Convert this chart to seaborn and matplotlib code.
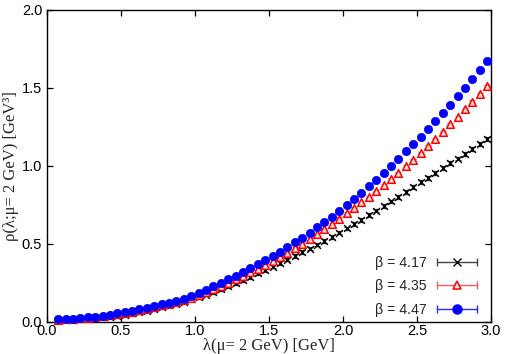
import numpy as np
import pandas as pd
import matplotlib
matplotlib.use("Agg")
import matplotlib.pyplot as plt
import seaborn as sns
from matplotlib.lines import Line2D
from matplotlib.legend_handler import HandlerLine2D, HandlerTuple

# ---- data ----
lam = [0.075, 0.125, 0.175, 0.225, 0.275, 0.325, 0.375, 0.425, 0.475, 0.525,
       0.575, 0.625, 0.675, 0.725, 0.775, 0.825, 0.875, 0.925, 0.975, 1.025,
       1.075, 1.125, 1.175, 1.225, 1.275, 1.325, 1.375, 1.425, 1.475, 1.525,
       1.575, 1.625, 1.675, 1.725, 1.775, 1.825, 1.875, 1.925, 1.975, 2.025,
       2.075, 2.125, 2.175, 2.225, 2.275, 2.325, 2.375, 2.425, 2.475, 2.525,
       2.575, 2.625, 2.675, 2.725, 2.775, 2.825, 2.875, 2.925, 2.975]

rho_417 = [0.011, 0.013, 0.015, 0.018, 0.021, 0.025, 0.030, 0.035, 0.041, 0.048,
           0.056, 0.064, 0.073, 0.083, 0.094, 0.106, 0.118, 0.131, 0.145, 0.160,
           0.176, 0.193, 0.211, 0.230, 0.249, 0.269, 0.290, 0.311, 0.333, 0.355,
           0.377, 0.400, 0.423, 0.447, 0.471, 0.496, 0.521, 0.547, 0.573, 0.600,
           0.628, 0.656, 0.685, 0.714, 0.743, 0.773, 0.803, 0.833, 0.864, 0.895,
           0.925, 0.955, 0.986, 1.017, 1.048, 1.079, 1.110, 1.141, 1.173]

rho_435 = [0.015, 0.017, 0.019, 0.023, 0.027, 0.031, 0.037, 0.043, 0.050, 0.058,
           0.066, 0.075, 0.085, 0.095, 0.106, 0.117, 0.129, 0.142, 0.156, 0.172,
           0.190, 0.210, 0.231, 0.252, 0.273, 0.295, 0.318, 0.340, 0.363, 0.389,
           0.416, 0.444, 0.472, 0.502, 0.533, 0.564, 0.596, 0.629, 0.663, 0.698,
           0.732, 0.767, 0.803, 0.839, 0.877, 0.917, 0.957, 0.999, 1.041, 1.084,
           1.128, 1.174, 1.220, 1.267, 1.315, 1.363, 1.413, 1.464, 1.515]

rho_447 = [0.017, 0.019, 0.021, 0.026, 0.030, 0.034, 0.041, 0.047, 0.056, 0.064,
           0.073, 0.081, 0.092, 0.103, 0.113, 0.124, 0.137, 0.150, 0.165, 0.185,
           0.207, 0.230, 0.253, 0.275, 0.297, 0.320, 0.344, 0.369, 0.395, 0.422,
           0.450, 0.479, 0.510, 0.541, 0.573, 0.606, 0.640, 0.676, 0.713, 0.750,
           0.789, 0.829, 0.869, 0.910, 0.953, 0.998, 1.045, 1.093, 1.141, 1.189,
           1.238, 1.288, 1.340, 1.393, 1.447, 1.503, 1.560, 1.617, 1.675]

labels = ["β = 4.17", "β = 4.35", "β = 4.47"]
xticks = [0.0, 0.5, 1.0, 1.5, 2.0, 2.5, 3.0]
yticks = [0.0, 0.5, 1.0, 1.5, 2.0]

sns.set_style("ticks")
plt.rcParams["font.family"] = ["Liberation Sans", "DejaVu Sans"]

df = pd.DataFrame({
    "lam": lam * 3,
    "rho": rho_417 + rho_435 + rho_447,
    "beta": [labels[0]] * len(lam) + [labels[1]] * len(lam) + [labels[2]] * len(lam),
})

fig = plt.figure(figsize=(5.06, 3.54), dpi=100)
ax = fig.add_axes([0.0929, 0.0904, 0.8774, 0.8814])

ecolors = ["#222222", "#ff5050", "#3030ff"]
series = [rho_417, rho_435, rho_447]
yerrs = [0.012, 0.007, 0.007]

# error bars
for vals, ec, ye in zip(series, ecolors, yerrs):
    ax.errorbar(lam, vals, yerr=ye, fmt="none", ecolor=ec, elinewidth=0.9,
                capsize=2.0, capthick=0.9, zorder=2, clip_on=False)

# markers
sub = df[df.beta == labels[0]]
sns.scatterplot(data=sub, x="lam", y="rho", marker="x", color="black", s=24,
                linewidth=1.0, ax=ax, legend=False, zorder=3, clip_on=False)
sub = df[df.beta == labels[1]]
sns.scatterplot(data=sub, x="lam", y="rho", marker="^", facecolor="#ffe0e0",
                edgecolor="#ff0000", s=30, linewidth=1.1, ax=ax, legend=False,
                zorder=4, clip_on=False)
sub = df[df.beta == labels[2]]
sns.scatterplot(data=sub, x="lam", y="rho", marker="o", color="#0000ff",
                edgecolor="#0000ff", s=36, linewidth=0.5, ax=ax, legend=False,
                zorder=5, clip_on=False)

ax.set_xlim(0, 3)
ax.set_ylim(0, 2)
ax.set_xticks(xticks)
ax.set_yticks(yticks)
ax.set_xticklabels([f"{t:.1f}" for t in xticks])
ax.set_yticklabels([f"{t:.1f}" for t in yticks])
ax.tick_params(direction="in", length=4, width=0.9, top=True, right=True,
               labelsize=10.5, colors="black")
ax.tick_params(axis="x", pad=1.5)
ax.tick_params(axis="y", pad=3.5)
for s in ax.spines.values():
    s.set_visible(True)
    s.set_linewidth(1.0)
    s.set_color("black")

serif = ["Liberation Serif", "DejaVu Serif"]
ax.set_xlabel("λ(μ= 2 GeV) [GeV]", fontsize=12, family=serif, labelpad=0)
ax.set_ylabel("ρ(λ;μ= 2 GeV) [GeV³]", fontsize=12, family=serif, labelpad=2)

# legend in gnuplot style: text then errorbar sample
handles = []
hmap = {}
lcolors = ["#444444", "#ff5a5a", "#2a2aff"]
markers = [dict(marker="x", markersize=5.5, mec="black", mew=1.0),
           dict(marker="^", markersize=6, mec="#ff0000", mfc="#ffe0e0", mew=1.1),
           dict(marker="o", markersize=6.5, mec="#0000ff", mfc="#0000ff")]
for lc, mk in zip(lcolors, markers):
    bar = Line2D([], [], color=lc, lw=1.0, marker="|", markersize=5.5, mew=1.0)
    pt = Line2D([], [], ls="none", **mk)
    hmap[bar] = HandlerLine2D(numpoints=2, marker_pad=0)
    hmap[pt] = HandlerLine2D(numpoints=1)
    handles.append((bar, pt))
hmap[tuple] = HandlerTuple(ndivide=1, pad=0)
leg = ax.legend(handles, labels, handler_map=hmap, loc="lower right",
                bbox_to_anchor=(0.99, -0.015), frameon=False, markerfirst=False,
                fontsize=10.2, handlelength=2.8, handletextpad=0.7,
                labelspacing=0.66, borderpad=0.2)

fig.savefig("out.png", dpi=100)
